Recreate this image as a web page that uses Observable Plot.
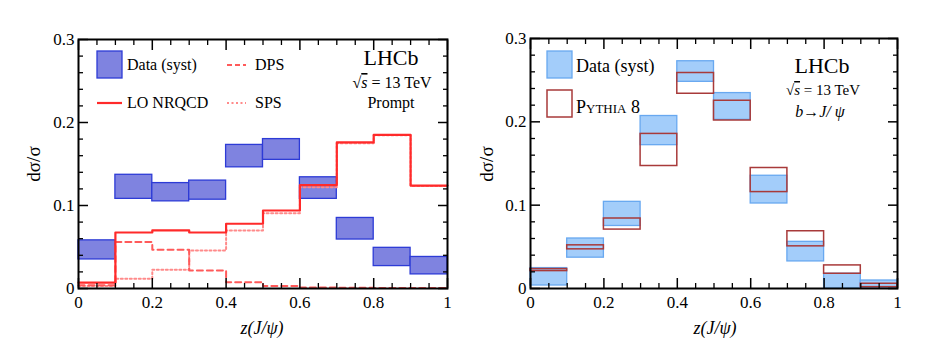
<!DOCTYPE html>
<html><head><meta charset="utf-8">
<script src="https://cdn.jsdelivr.net/npm/d3@7"></script>
<script src="https://cdn.jsdelivr.net/npm/@observablehq/plot@0.6"></script>
<style>body{margin:0;background:#fff} #c{display:flex;width:946px;height:360px;background:#fff}</style>
</head><body><div id="c"></div>
<script>
// bins of z(J/psi)
const binLo = [0.0, 0.1, 0.2, 0.3, 0.4, 0.5, 0.6, 0.7, 0.8, 0.9];
const binHi = [0.1, 0.2, 0.3, 0.4, 0.5, 0.6, 0.7, 0.8, 0.9, 1.0];
// Prompt panel: data (syst band)
const promptLo = [0.035, 0.108, 0.105, 0.107, 0.146, 0.155, 0.108, 0.059, 0.027, 0.017];
const promptHi = [0.058, 0.137, 0.127, 0.130, 0.173, 0.180, 0.134, 0.085, 0.049, 0.038];
// LO NRQCD total, DPS, SPS
const nrqcd = [0.007, 0.0675, 0.070, 0.0675, 0.078, 0.094, 0.1245, 0.176, 0.185, 0.124];
const dps   = [0.004, 0.056, 0.0466, 0.0217, 0.0076, 0.003, 0.0012, 0.0008, 0.0006, 0.0005];
const sps   = [0.003, 0.0117, 0.0225, 0.0458, 0.070, 0.0908, 0.122, 0.175, 0.1845, 0.1235];
// b -> J/psi panel: data (syst band) and Pythia 8 band
const bLo = [0.0036, 0.037, 0.075, 0.172, 0.248, 0.2024, 0.102, 0.0325, 0.0, 0.0];
const bHi = [0.0245, 0.060, 0.104, 0.207, 0.2727, 0.2345, 0.1353, 0.056, 0.0177, 0.0096];
const pyLo = [0.0209, 0.047, 0.0707, 0.147, 0.2337, 0.2016, 0.1157, 0.0506, 0.0177, 0.0016];
const pyHi = [0.0233, 0.0518, 0.084, 0.1855, 0.2586, 0.2253, 0.1446, 0.0687, 0.0277, 0.0057];
// axis ticks
const xTicks = [0, 0.2, 0.4, 0.6, 0.8, 1];
const xTickLabels = ["0", "0.2", "0.4", "0.6", "0.8", "1"];
const xMinor = [0.05,0.1,0.15,0.25,0.3,0.35,0.45,0.5,0.55,0.65,0.7,0.75,0.85,0.9,0.95];
const yTicks = [0, 0.1, 0.2, 0.3];
const yTickLabels = ["0", "0.1", "0.2", "0.3"];
const yMinor = [0.02,0.04,0.06,0.08,0.12,0.14,0.16,0.18,0.22,0.24,0.26,0.28];

const bins = binLo.map((lo, i) => ({lo, hi: binHi[i], pLo: promptLo[i], pHi: promptHi[i], bLo: bLo[i], bHi: bHi[i], yLo: pyLo[i], yHi: pyHi[i]}));
const steps = vals => vals.flatMap((v, i) => [{x: binLo[i], y: v}, {x: binHi[i], y: v}]);

const FONT = "Liberation Serif, Times New Roman, serif";

function axes() {
  return [
    Plot.axisY(yMinor, {anchor: "left", tickSize: -5, text: null, strokeWidth: 1.3}),
    Plot.axisY(yMinor, {anchor: "right", tickSize: -5, text: null, strokeWidth: 1.3}),
    Plot.axisY(yTicks, {anchor: "left", tickSize: -10, text: null, strokeWidth: 1.5}),
    Plot.axisY(yTicks, {anchor: "right", tickSize: -10, text: null, strokeWidth: 1.5}),
    Plot.axisY(yTicks, {anchor: "left", tickSize: 0, tickPadding: 4, label: null,
      tickFormat: d => yTickLabels[yTicks.indexOf(d)]}),
    Plot.axisX(xMinor, {anchor: "bottom", tickSize: -5, text: null, strokeWidth: 1.3}),
    Plot.axisX(xMinor, {anchor: "top", tickSize: -5, text: null, strokeWidth: 1.3}),
    Plot.axisX(xTicks, {anchor: "bottom", tickSize: -10, text: null, strokeWidth: 1.5}),
    Plot.axisX(xTicks, {anchor: "top", tickSize: -10, text: null, strokeWidth: 1.5}),
    Plot.axisX(xTicks, {anchor: "bottom", tickSize: 0, tickPadding: 7, label: null,
      tickFormat: d => xTickLabels[xTicks.indexOf(d)]}),
    Plot.frame({stroke: "black", strokeWidth: 2})
  ];
}

function base(marginLeft, marginRight, marginTop, marks) {
  return Plot.plot({
    width: 473, height: 360,
    marginLeft, marginRight, marginTop, marginBottom: 72,
    x: {domain: [0, 1], label: null},
    y: {domain: [0, 0.3], label: null},
    style: {fontFamily: FONT, fontSize: "17px", background: "white", color: "black", overflow: "visible"},
    marks: [...marks, ...axes()]
  });
}

const left = base(78, 26, 39, [
  Plot.rect(bins, {x1: "lo", x2: "hi", y1: "pLo", y2: "pHi", fill: "#7f83e0", stroke: "#2d3bd6", strokeWidth: 1.3}),
  Plot.line(steps(sps), {x: "x", y: "y", stroke: "#ff8a8a", strokeWidth: 2, strokeDasharray: "2,2.5"}),
  Plot.line(steps(dps), {x: "x", y: "y", stroke: "#ff5a5a", strokeWidth: 2, strokeDasharray: "6,4"}),
  Plot.line(steps(nrqcd), {x: "x", y: "y", stroke: "#ff2a2a", strokeWidth: 2.2})
]);

const right = base(57, 49, 38, [
  Plot.rect(bins, {x1: "lo", x2: "hi", y1: "bLo", y2: "bHi", fill: "#a3cdfa", stroke: "#68a8f0", strokeWidth: 1.3}),
  Plot.rect(bins, {x1: "lo", x2: "hi", y1: "yLo", y2: "yHi", fill: "none", stroke: "#a83a3a", strokeWidth: 1.5})
]);

document.getElementById("c").append(left, right);

function txt(svg, x, y, s, opts = {}) {
  const t = d3.select(svg).append("text").attr("x", x).attr("y", y)
    .attr("font-family", FONT).attr("font-size", opts.size || 16)
    .attr("text-anchor", opts.anchor || "start").attr("fill", "black");
  if (opts.style) t.attr("font-style", opts.style);
  if (opts.variant) t.attr("font-variant", opts.variant);
  if (opts.rotate) t.attr("transform", `rotate(-90 ${x} ${y})`);
  if (opts.html) t.html(s); else t.text(s);
  return t;
}

// axis titles
txt(left, 40, 164, "dσ/σ", {size: 19, anchor: "middle", rotate: true});
txt(left, 262, 334, "z(J/ψ)", {size: 18, anchor: "middle", style: "italic"});
txt(right, 20, 164, "dσ/σ", {size: 19, anchor: "middle", rotate: true});
txt(right, 242, 334, "z(J/ψ)", {size: 18, anchor: "middle", style: "italic"});

// left legend
const L = d3.select(left);
L.append("rect").attr("x", 97).attr("y", 51).attr("width", 25).attr("height", 27).attr("fill", "#7f83e0").attr("stroke", "#2d3bd6").attr("stroke-width", 1.3);
txt(left, 127, 70, "Data (syst)", {size: 16});
L.append("line").attr("x1", 97).attr("x2", 122).attr("y1", 103).attr("y2", 103).attr("stroke", "#ff2a2a").attr("stroke-width", 2.2);
txt(left, 127, 108, "LO NRQCD", {size: 16});
L.append("line").attr("x1", 227).attr("x2", 246).attr("y1", 65).attr("y2", 65).attr("stroke", "#ff5a5a").attr("stroke-width", 2).attr("stroke-dasharray", "5,3");
txt(left, 255, 70, "DPS", {size: 16});
L.append("line").attr("x1", 227).attr("x2", 246).attr("y1", 103).attr("y2", 103).attr("stroke", "#ff8a8a").attr("stroke-width", 2).attr("stroke-dasharray", "2,2.5");
txt(left, 255, 108, "SPS", {size: 16});
txt(left, 391, 65, "LHCb", {size: 22, anchor: "middle"});
txt(left, 392, 88, "√<tspan font-style='italic' text-decoration='overline'>s</tspan> = 13 TeV", {size: 16, anchor: "middle", html: true});
txt(left, 391, 108, "Prompt", {size: 16, anchor: "middle"});

// right legend
const R = d3.select(right);
R.append("rect").attr("x", 74).attr("y", 51).attr("width", 25).attr("height", 27).attr("fill", "#a3cdfa").attr("stroke", "#68a8f0").attr("stroke-width", 1.3);
txt(right, 103, 72, "Data (syst)", {size: 18});
R.append("rect").attr("x", 74).attr("y", 90).attr("width", 25).attr("height", 27).attr("fill", "white").attr("stroke", "#a83a3a").attr("stroke-width", 1.5);
txt(right, 103, 113, "Pythia 8", {size: 18, variant: "small-caps"});
txt(right, 349, 73, "LHCb", {size: 22, anchor: "middle"});
txt(right, 350, 95, "√<tspan font-style='italic' text-decoration='overline'>s</tspan> = 13 TeV", {size: 15, anchor: "middle", html: true});
txt(right, 347, 117, "b→J/ ψ", {size: 16, anchor: "middle", style: "italic"});
</script>
</body></html>
